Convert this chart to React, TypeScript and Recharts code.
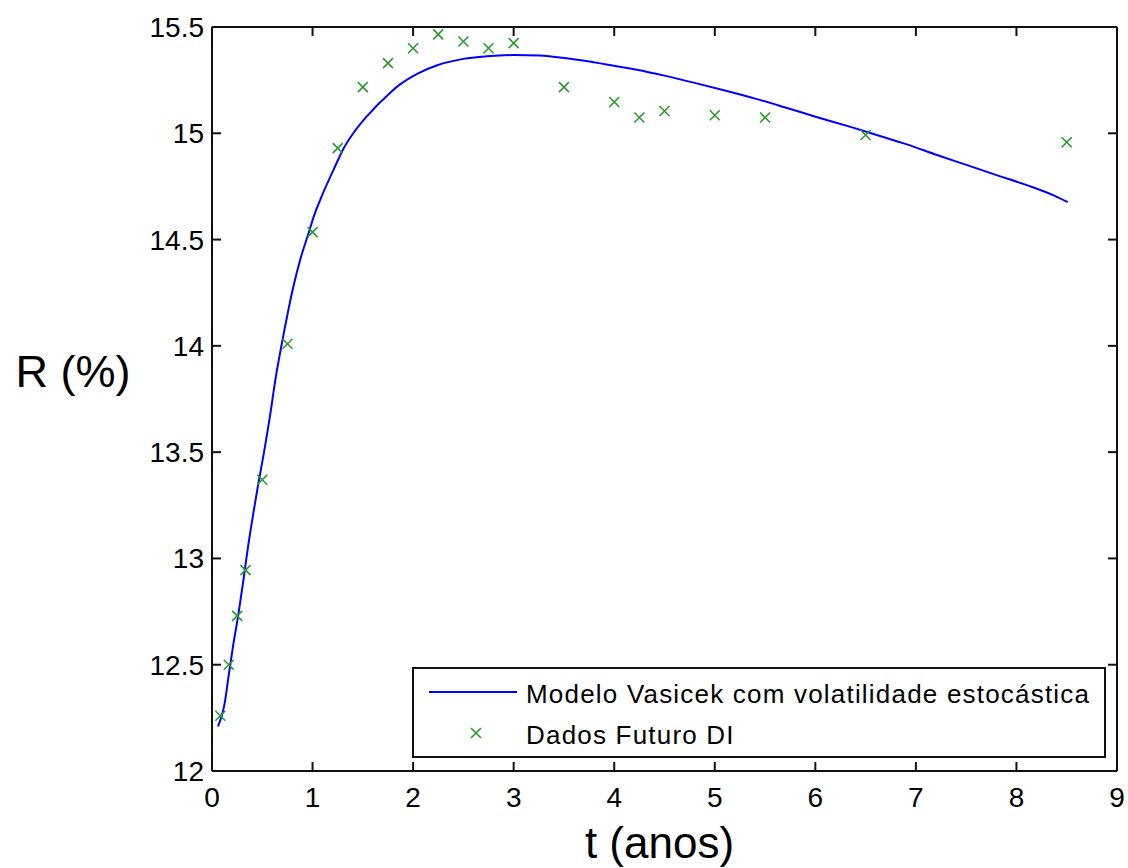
import React from 'react';
import { ComposedChart, Line, Scatter, XAxis, YAxis, Legend, Label } from 'recharts';

// fitted curve (Vasicek with stochastic volatility)
const modelT = [
  0.06, 0.13, 0.16, 0.21, 0.26, 0.31, 0.36, 0.41, 0.46, 0.51, 0.58, 0.63, 0.69, 0.76, 0.81, 0.88,
  0.96, 1.02, 1.07, 1.21, 1.31, 1.42, 1.54, 1.77, 1.87, 2.04, 2.24, 2.5, 2.73, 3.0, 3.26, 3.39,
  3.65, 3.91, 4.21, 4.51, 4.81, 5.11, 5.41, 5.71, 6.01, 6.35, 6.61, 6.91, 7.21, 7.51, 7.81, 8.11,
  8.37, 8.51,
];
const modelR = [
  12.21, 12.33, 12.43, 12.59, 12.73, 12.89, 13.06, 13.21, 13.35, 13.48, 13.68, 13.84, 14.0, 14.17,
  14.28, 14.41, 14.53, 14.62, 14.68, 14.83, 14.93, 15.01, 15.08, 15.19, 15.23, 15.28, 15.32, 15.35,
  15.362, 15.368, 15.366, 15.36, 15.345, 15.325, 15.3, 15.27, 15.236, 15.2, 15.162, 15.12, 15.077,
  15.03, 14.992, 14.948, 14.898, 14.85, 14.802, 14.755, 14.708, 14.676,
];

// DI futures observations
const futT = [
  0.083, 0.167, 0.25, 0.333, 0.5, 0.75, 1.0, 1.25, 1.5, 1.75, 2.0, 2.25, 2.5, 2.75, 3.0, 3.5, 4.0,
  4.25, 4.5, 5.0, 5.5, 6.5, 8.5,
];
const futR = [
  12.26, 12.5, 12.73, 12.945, 13.37, 14.01, 14.535, 14.93, 15.217, 15.33, 15.4, 15.465, 15.432,
  15.4, 15.424, 15.217, 15.147, 15.074, 15.105, 15.085, 15.074, 14.992, 14.958,
];

const xTicks = [0, 1, 2, 3, 4, 5, 6, 7, 8, 9];
const yTicks = [12, 12.5, 13, 13.5, 14, 14.5, 15, 15.5];

const MODEL_NAME = 'Modelo Vasicek com volatilidade estocástica';
const FUT_NAME = 'Dados Futuro DI';
const legendOrder = [MODEL_NAME, FUT_NAME];

const modelData = modelT.map((t, i) => ({ t, r: modelR[i] }));
const futData = futT.map((t, i) => ({ t, r: futR[i] }));

const FONT = '"Liberation Sans", Arial, Helvetica, sans-serif';
const INK = '#111';
const BLUE = '#0000ff';
const GREEN = '#2b9a2b';

// chart box
const W = 1128;
const H = 868;
const M = { top: 26, right: 10, bottom: 0, left: 0 };
const X_AXIS_H = 97;
const Y_AXIS_W = 212;
const PLOT_W = W - M.left - M.right - Y_AXIS_W - 1;
const PLOT_H = H - M.top - M.bottom - X_AXIS_H - 1;
const TICK = 9;

// ticks point inward on all four sides of the box
const BottomTick = (props: any) => {
  const { x, y, payload } = props;
  const top = y - PLOT_H;
  return (
    <g>
      <line x1={x} y1={y} x2={x} y2={y - TICK} stroke={INK} strokeWidth={2} />
      <line x1={x} y1={top} x2={x} y2={top + TICK} stroke={INK} strokeWidth={2} />
      <text x={x} y={y + 36} textAnchor="middle" fontFamily={FONT} fontSize={28} fill="#000">
        {payload.value}
      </text>
    </g>
  );
};

const LeftTick = (props: any) => {
  const { x, y, payload } = props;
  const right = x + PLOT_W;
  return (
    <g>
      <line x1={x} y1={y} x2={x + TICK} y2={y} stroke={INK} strokeWidth={2} />
      <line x1={right} y1={y} x2={right - TICK} y2={y} stroke={INK} strokeWidth={2} />
      <text x={x - 8} y={y + 10} textAnchor="end" fontFamily={FONT} fontSize={28} fill="#000">
        {payload.value}
      </text>
    </g>
  );
};

const XMark = (props: any) => {
  const { cx, cy } = props;
  if (cx == null || cy == null) return null;
  const s = 5;
  return (
    <path
      d={`M${cx - s},${cy - s}L${cx + s},${cy + s}M${cx - s},${cy + s}L${cx + s},${cy - s}`}
      stroke={GREEN}
      strokeWidth={1.6}
      fill="none"
    />
  );
};

const LegendBox = (props: any) => {
  const items = [...(props.payload || [])].sort(
    (a: any, b: any) => legendOrder.indexOf(a.value) - legendOrder.indexOf(b.value),
  );
  return (
    <div
      style={{
        width: 694,
        height: 91,
        border: `2px solid ${INK}`,
        boxSizing: 'border-box',
        background: '#fff',
      }}
    >
      <svg width={690} height={87}>
        {items.map((entry: any, i: number) => {
          const cy = 23 + i * 41;
          return (
            <g key={entry.value}>
              {entry.value === MODEL_NAME ? (
                <line x1={15} y1={cy} x2={103} y2={cy} stroke={BLUE} strokeWidth={2} />
              ) : (
                <XMark cx={62} cy={cy} />
              )}
              <text
                x={112}
                y={cy + 11}
                fontFamily={FONT}
                fontSize={26}
                letterSpacing={1.2}
                fill="#000"
              >
                {entry.value}
              </text>
            </g>
          );
        })}
      </svg>
    </div>
  );
};

export default function App() {
  return (
    <div style={{ position: 'absolute', left: 0, top: 0, width: W, height: H, background: '#fff' }}>
      <ComposedChart width={W} height={H} margin={M}>
        <XAxis
          xAxisId="b"
          dataKey="t"
          type="number"
          domain={[0, 9]}
          ticks={xTicks}
          interval={0}
          height={X_AXIS_H}
          tickSize={0}
          tickMargin={0}
          tickLine={false}
          axisLine={{ stroke: INK, strokeWidth: 2 }}
          tick={<BottomTick />}
        >
          <Label
            content={(p: any) => (
              <text
                x={p.viewBox.x + p.viewBox.width / 2 - 5}
                y={p.viewBox.y + 87}
                textAnchor="middle"
                fontFamily={FONT}
                fontSize={44}
                fill="#000"
              >
                t (anos)
              </text>
            )}
          />
        </XAxis>
        <XAxis
          xAxisId="t"
          dataKey="t"
          type="number"
          orientation="top"
          domain={[0, 9]}
          height={1}
          tick={false}
          tickLine={false}
          axisLine={{ stroke: INK, strokeWidth: 2 }}
        />
        <YAxis
          yAxisId="l"
          type="number"
          domain={[12, 15.5]}
          ticks={yTicks}
          interval={0}
          width={Y_AXIS_W}
          tickSize={0}
          tickMargin={0}
          tickLine={false}
          axisLine={{ stroke: INK, strokeWidth: 2 }}
          tick={<LeftTick />}
        >
          <Label
            content={() => (
              <text x={73} y={387} textAnchor="middle" fontFamily={FONT} fontSize={45} fill="#000">
                R (%)
              </text>
            )}
          />
        </YAxis>
        <YAxis
          yAxisId="r"
          orientation="right"
          type="number"
          domain={[12, 15.5]}
          width={1}
          tick={false}
          tickLine={false}
          axisLine={{ stroke: INK, strokeWidth: 2 }}
        />
        <Line
          xAxisId="b"
          yAxisId="l"
          data={modelData}
          dataKey="r"
          name={MODEL_NAME}
          type="monotone"
          stroke={BLUE}
          strokeWidth={2}
          dot={false}
          legendType="line"
          isAnimationActive={false}
        />
        <Scatter
          xAxisId="b"
          yAxisId="l"
          data={futData}
          dataKey="r"
          name={FUT_NAME}
          shape={<XMark />}
          legendType="cross"
          fill={GREEN}
          isAnimationActive={false}
        />
        <Legend
          layout="vertical"
          align="center"
          verticalAlign="middle"
          content={<LegendBox />}
          wrapperStyle={{ left: 412, top: 667, width: 694, height: 91 }}
        />
      </ComposedChart>
    </div>
  );
}
